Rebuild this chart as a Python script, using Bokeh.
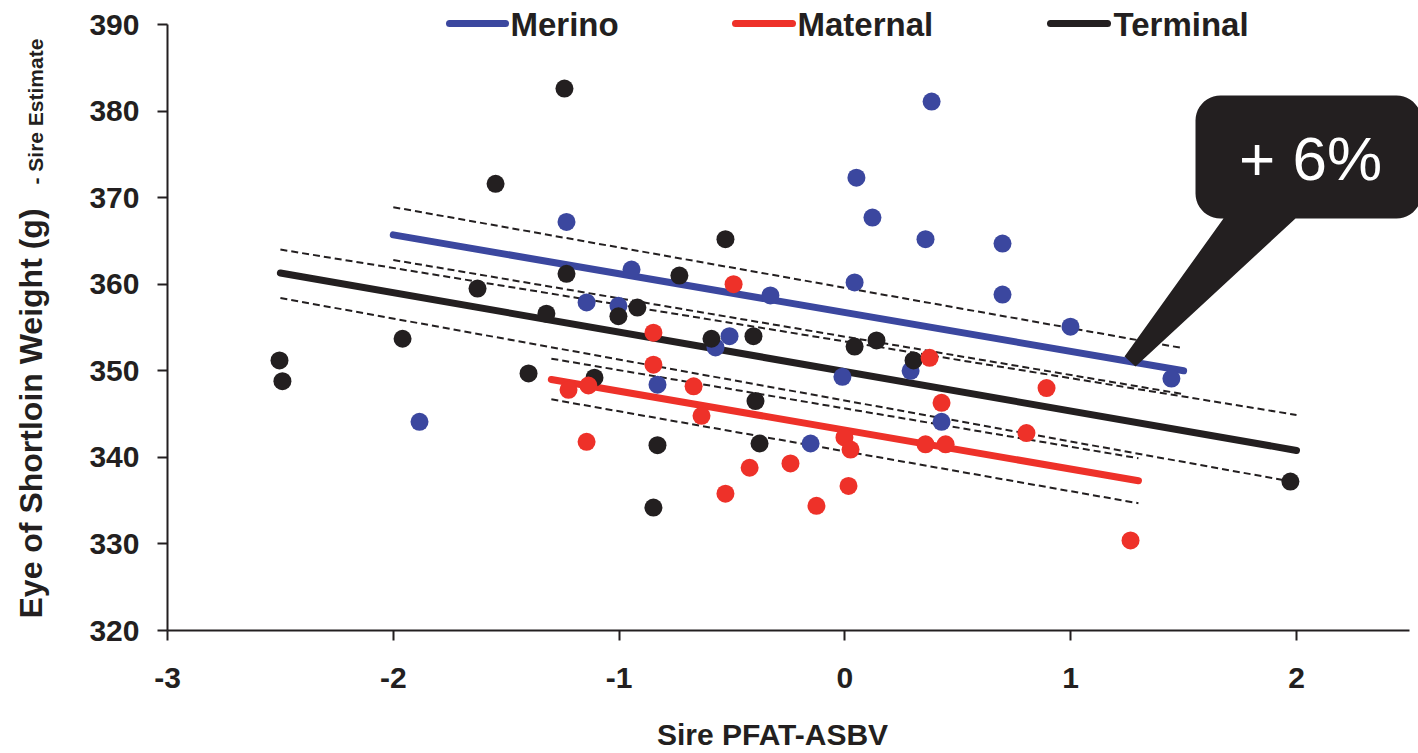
import numpy as np
from bokeh.plotting import figure
from bokeh.models import Label, FixedTicker, Range1d
from bokeh.embed import file_html
from bokeh.resources import INLINE
from bokeh.core.properties import value

# ---------------- data ----------------
groups = ["Merino", "Maternal", "Terminal"]
group_colors = ["#3B479F", "#EE3129", "#231F20"]

merino_x = [0.384, 0.051, 0.122, 0.357, 0.698, 0.698, 0.043, -1.233, -0.945, -0.330,
            -1.144, -1.003, -0.511, -0.573, -0.830, -0.011, 0.291, 0.428, -0.152, 0.999,
            1.446, -1.884]
merino_y = [381.1, 372.3, 367.7, 365.2, 364.7, 358.8, 360.2, 367.2, 361.7, 358.7,
            357.9, 357.5, 354.0, 352.7, 348.4, 349.3, 350.0, 344.1, 341.6, 355.1,
            349.1, 344.1]

maternal_x = [-0.493, -0.848, -0.848, 0.375, -1.224, -1.136, -0.670, -0.635, -1.144, -0.422,
              -0.241, -0.529, -0.126, 0.016, -0.002, 0.025, 0.428, 0.357, 0.446, 0.893,
              0.804, 1.265]
maternal_y = [360.0, 354.4, 350.7, 351.5, 347.8, 348.3, 348.2, 344.8, 341.8, 338.8,
              339.3, 335.8, 334.4, 336.7, 342.3, 340.9, 346.3, 341.5, 341.5, 348.0,
              342.8, 330.4]

terminal_x = [-1.242, -1.547, -1.233, -1.627, -1.322, -1.959, -2.504, -2.491, -1.401, -1.109,
              -1.003, -0.919, -0.733, -0.529, -0.591, -0.405, -0.396, -0.830, -0.378, -0.848,
              0.043, 0.140, 0.304, 1.973]
terminal_y = [382.6, 371.6, 361.2, 359.5, 356.6, 353.7, 351.2, 348.8, 349.7, 349.2,
              356.3, 357.3, 361.0, 365.2, 353.7, 354.0, 346.5, 341.4, 341.6, 334.2,
              352.8, 353.5, 351.2, 337.2]

# regression lines and confidence limits (end points)
merino_fit_x = [-2.0, 1.5]
merino_fit_y = [365.7, 350.0]
merino_upper_y = [368.9, 352.6]
merino_lower_y = [362.8, 347.3]

maternal_fit_x = [-1.3, 1.3]
maternal_fit_y = [349.0, 337.3]
maternal_upper_y = [351.4, 339.9]
maternal_lower_y = [346.7, 334.7]

terminal_fit_x = [-2.5, 2.0]
terminal_fit_y = [361.3, 340.8]
terminal_upper_y = [364.0, 344.9]
terminal_lower_y = [358.4, 337.1]

x_ticks = [-3, -2, -1, 0, 1, 2]
y_ticks = [320, 330, 340, 350, 360, 370, 380, 390]
x_title = "Sire PFAT-ASBV"
y_title = "Eye of Shortloin Weight (g)"
y_subtitle = "- Sire Estimate"
callout_text = "+ 6%"

# ---------------- layout ----------------
W, H = 1418, 753
AX_L, AX_B = 167, 630                    # pixel position of the axes lines
SX = (1296 - 167) / 5.0                  # pixels per x unit
SY = (630 - 24) / 70.0                   # pixels per y unit
X_AX, Y_AX = -3.0, 320.0
X_START = X_AX - AX_L / SX
X_END = X_AX + (W - AX_L) / SX
Y_START = Y_AX - (H - AX_B) / SY
Y_END = Y_AX + AX_B / SY


def px2x(px):
    return X_AX + (px - AX_L) / SX


def py2y(py):
    return Y_AX + (AX_B - py) / SY


FONT = "Liberation Sans"
INK = "#231F20"

p = figure(width=W, height=H, x_range=Range1d(X_START, X_END),
           y_range=Range1d(Y_START, Y_END),
           output_backend="svg", toolbar_location=None, title=None,
           min_border=0, min_border_left=0, min_border_right=0,
           min_border_top=0, min_border_bottom=0)
p.grid.visible = False
p.outline_line_color = None
p.background_fill_color = "white"
p.border_fill_color = "white"

p.xaxis.ticker = FixedTicker(ticks=x_ticks)
p.yaxis.ticker = FixedTicker(ticks=y_ticks)
p.xaxis.major_label_overrides = {t: str(t) for t in x_ticks}
p.yaxis.major_label_overrides = {t: str(t) for t in y_ticks}
p.xaxis.fixed_location = Y_AX
p.yaxis.fixed_location = X_AX
p.xaxis.bounds = (-3, 2.5)
p.yaxis.bounds = (320, 390)
for ax in p.axis:
    ax.axis_line_width = 2
    ax.axis_line_color = INK
    ax.major_tick_line_width = 2
    ax.major_tick_line_color = INK
    ax.major_tick_out = 10
    ax.major_tick_in = 0
    ax.minor_tick_out = 0
    ax.minor_tick_in = 0
    ax.major_label_text_font = FONT
    ax.major_label_text_font_style = "bold"
    ax.major_label_text_font_size = "30px"
    ax.major_label_text_color = INK
p.yaxis.major_label_standoff = 18
p.xaxis.major_label_standoff = 27

# regression lines
fits = [
    (merino_fit_x, merino_fit_y, merino_upper_y, merino_lower_y, group_colors[0]),
    (terminal_fit_x, terminal_fit_y, terminal_upper_y, terminal_lower_y, group_colors[2]),
    (maternal_fit_x, maternal_fit_y, maternal_upper_y, maternal_lower_y, group_colors[1]),
]
for fx, fy, fu, fl, col in fits:
    p.line(fx, fu, line_color=INK, line_width=2, line_dash="7 4")
    p.line(fx, fl, line_color=INK, line_width=2, line_dash="7 4")
for fx, fy, fu, fl, col in fits:
    p.line(fx, fy, line_color=col, line_width=7, line_cap="round")

# points
p.scatter(merino_x, merino_y, size=18, fill_color=group_colors[0], line_color=None)
p.scatter(terminal_x, terminal_y, size=18, fill_color=group_colors[2], line_color=None)
p.scatter(maternal_x, maternal_y, size=18, fill_color=group_colors[1], line_color=None)

# legend (manual, along the top)
leg_line_px = [(449, 505), (735, 792), (1050, 1107)]
leg_text_px = [510, 797, 1113]
p.segment(x0=[px2x(a) for a, b in leg_line_px], y0=[py2y(23)] * 3,
          x1=[px2x(b) for a, b in leg_line_px], y1=[py2y(23)] * 3,
          line_color=group_colors, line_width=7, line_cap="round")
p.text(x=[px2x(t) for t in leg_text_px], y=[py2y(24)] * 3, text=groups,
       text_font=value(FONT), text_font_style="bold", text_font_size="33px",
       text_color=INK, text_baseline="middle", text_align="left")

# callout bubble
L, R, T, B, r = 1195, 1421, 95, 218, 25


def arc(cx, cy, a0, a1, n=12):
    a = np.linspace(a0, a1, n)
    return list(cx + r * np.cos(a)), list(cy + r * np.sin(a))


bx, by = [], []
for cx, cy, a0, a1 in [(L + r, T + r, np.pi, 1.5 * np.pi),
                       (R - r, T + r, 1.5 * np.pi, 2 * np.pi),
                       (R - r, B - r, 0, 0.5 * np.pi)]:
    ax_, ay_ = arc(cx, cy, a0, a1)
    bx += ax_
    by += ay_
bx += [1295, 1135, 1124, 1223]
by += [B, 366, 356, B]
ax_, ay_ = arc(L + r, B - r, 0.5 * np.pi, np.pi)
bx += ax_
by += ay_
p.patch([px2x(v) for v in bx], [py2y(v) for v in by], fill_color=INK, line_color=None)
p.add_layout(Label(x=px2x(1310), y=py2y(158), text=callout_text, text_align="center",
                   text_baseline="middle", text_color="white",
                   text_font=FONT, text_font_size="62px"))

# axis titles
p.add_layout(Label(x=px2x(30), y=py2y(618), text=y_title, angle=np.pi / 2,
                   text_align="left", text_baseline="middle", text_color=INK,
                   text_font=FONT, text_font_style="bold", text_font_size="32px"))
p.add_layout(Label(x=px2x(34.5), y=py2y(184), text=y_subtitle, angle=np.pi / 2,
                   text_align="left", text_baseline="middle", text_color=INK,
                   text_font=FONT, text_font_style="bold", text_font_size="21px"))
p.add_layout(Label(x=px2x(772), y=py2y(734), text=x_title, text_align="center",
                   text_baseline="middle", text_color=INK,
                   text_font=FONT, text_font_style="bold", text_font_size="30px"))

open("out.html", "w").write(file_html(p, INLINE))
